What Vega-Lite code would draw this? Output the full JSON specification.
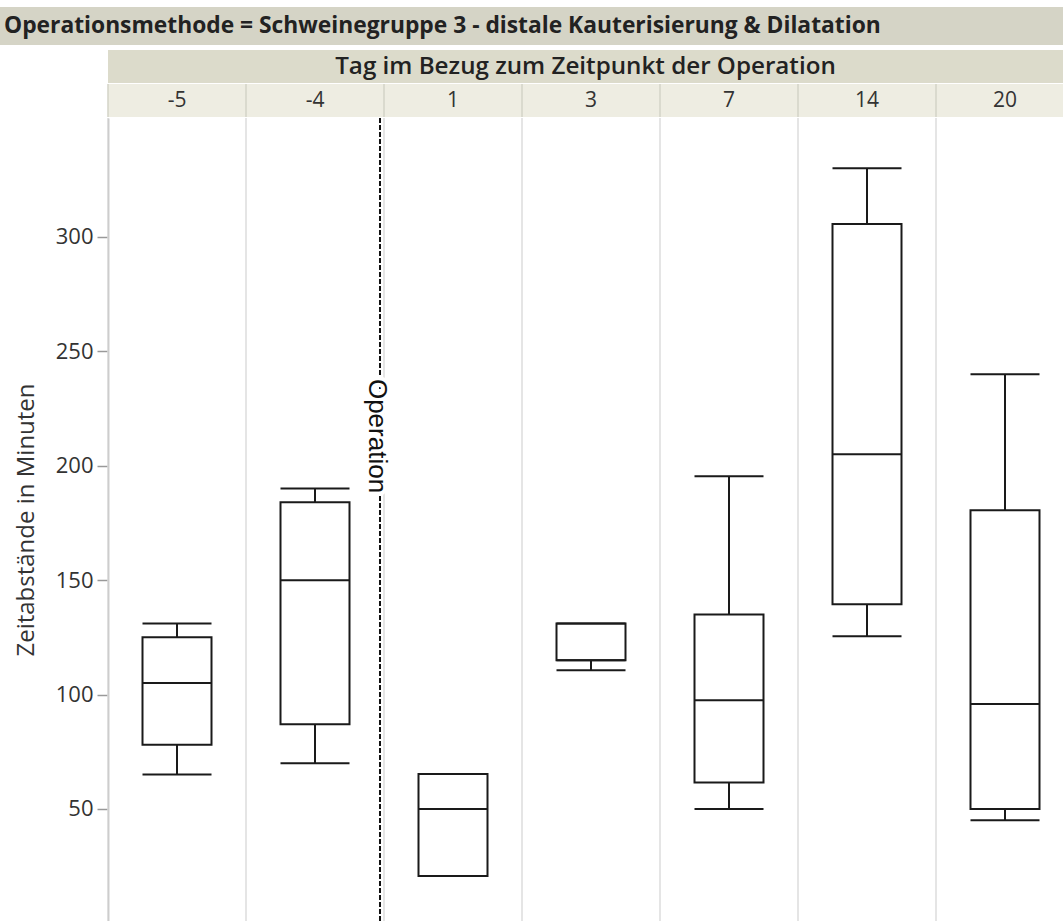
{
  "$schema": "https://vega.github.io/schema/vega-lite/v6.json",
  "padding": {"left": 0, "right": 0, "top": 7, "bottom": 0},
  "autosize": {"type": "pad"},
  "background": "white",
  "config": {"font": "Open Sans", "view": {"stroke": null}},
  "datasets": {
    "boxes": [
      {"tag": "-5", "min": 65, "q1": 78, "median": 105, "q3": 125, "max": 131},
      {"tag": "-4", "min": 70, "q1": 87, "median": 150, "q3": 184, "max": 190},
      {"tag": "1", "min": 20.7, "q1": 20.7, "median": 50, "q3": 65.3, "max": 65.3},
      {"tag": "3", "min": 110.6, "q1": 115, "median": 115, "q3": 131, "max": 131},
      {"tag": "7", "min": 50, "q1": 61.5, "median": 97.5, "q3": 135, "max": 195.4},
      {"tag": "14", "min": 125.5, "q1": 139.5, "median": 205, "q3": 305.7, "max": 330},
      {"tag": "20", "min": 45, "q1": 50, "median": 95.8, "q3": 180.5, "max": 240}
    ],
    "marker": [{"tag": "1", "label": "Operation"}]
  },
  "bounds": "flush",
  "spacing": 5,
  "vconcat": [
    {
      "width": 1063,
      "height": 38,
      "view": {"fill": "#d5d4c6", "stroke": null},
      "data": {"values": [{"t": "Operationsmethode = Schweinegruppe 3 - distale Kauterisierung & Dilatation"}]},
      "mark": {"type": "text", "align": "left", "baseline": "middle", "fontSize": 22.8, "fontWeight": "bold", "color": "#222222", "dx": 4},
      "encoding": {
        "text": {"field": "t"},
        "x": {"datum": 0, "type": "quantitative", "scale": {"domain": [0, 1]}, "axis": null}
      }
    },
    {
      "bounds": "flush",
      "spacing": 8,
      "hconcat": [
        {
          "width": 100,
          "height": 10,
          "data": {"values": []},
          "mark": "point"
        },
        {
          "bounds": "flush",
          "spacing": 1,
          "vconcat": [
            {
              "width": 955,
              "height": 33,
              "view": {"fill": "#dcdbcb", "stroke": null},
              "data": {"values": [{"h": "Tag im Bezug zum Zeitpunkt der Operation"}]},
              "mark": {"type": "text", "baseline": "middle", "fontSize": 24.2, "fontWeight": 600, "color": "#222222"},
              "encoding": {"text": {"field": "h"}}
            },
            {
              "width": 955,
              "height": 33,
              "view": {"fill": "#eeede2", "stroke": null},
              "data": {"name": "boxes"},
              "encoding": {
                "x": {
                  "field": "tag", "type": "nominal", "sort": null, "axis": null,
                  "scale": {"domain": ["-5", "-4", "1", "3", "7", "14", "20"], "range": [0, 966], "paddingInner": 0, "paddingOuter": 0}
                }
              },
              "layer": [
                {
                  "mark": {"type": "rule", "color": "#d3d3c7", "strokeWidth": 1.5},
                  "encoding": {
                    "x": {
                      "field": "tag", "type": "nominal", "sort": null, "axis": null, "bandPosition": 0,
                      "scale": {"domain": ["-5", "-4", "1", "3", "7", "14", "20"], "range": [0, 966], "paddingInner": 0, "paddingOuter": 0}
                    }
                  }
                },
                {
                  "mark": {"type": "text", "baseline": "middle", "fontSize": 21, "color": "#333333"},
                  "encoding": {"text": {"field": "tag"}}
                }
              ]
            },
            {
              "width": 955,
              "height": 803,
              "data": {"name": "boxes"},
              "encoding": {
                "x": {
                  "field": "tag", "type": "nominal", "sort": null, "axis": null,
                  "scale": {"domain": ["-5", "-4", "1", "3", "7", "14", "20"], "range": [0, 966], "paddingInner": 0, "paddingOuter": 0}
                }
              },
              "layer": [
                {
                  "mark": {"type": "rule", "color": "#dcdcdc", "strokeWidth": 1.5},
                  "encoding": {
                    "x": {
                      "field": "tag", "type": "nominal", "sort": null, "axis": null, "bandPosition": 0,
                      "scale": {"domain": ["-5", "-4", "1", "3", "7", "14", "20"], "range": [0, 966], "paddingInner": 0, "paddingOuter": 0}
                    }
                  }
                },
                {
                  "mark": {"type": "rule", "color": "#1a1a1a", "strokeWidth": 2},
                  "encoding": {
                    "y": {
                      "field": "min", "type": "quantitative",
                      "scale": {"domain": [1, 352], "nice": false, "zero": false},
                      "axis": {
                        "values": [50, 100, 150, 200, 250, 300],
                        "title": "Zeitabstände in Minuten",
                        "titleFontSize": 24, "titleFontWeight": "normal", "titleColor": "#333333",
                        "titlePadding": 17,
                        "labelFontSize": 22, "labelColor": "#333333", "labelPadding": 4,
                        "tickSize": 11, "tickColor": "#999999", "tickWidth": 1.5,
                        "domainColor": "#a0a0a0", "domainWidth": 1.5, "grid": false
                      }
                    },
                    "y2": {"field": "q1"}
                  }
                },
                {
                  "mark": {"type": "rule", "color": "#1a1a1a", "strokeWidth": 2},
                  "encoding": {
                    "y": {
                      "field": "q3", "type": "quantitative",
                      "scale": {"domain": [1, 352], "nice": false, "zero": false},
                      "axis": {
                        "values": [50, 100, 150, 200, 250, 300],
                        "title": "Zeitabstände in Minuten",
                        "titleFontSize": 24, "titleFontWeight": "normal", "titleColor": "#333333",
                        "titlePadding": 17,
                        "labelFontSize": 22, "labelColor": "#333333", "labelPadding": 4,
                        "tickSize": 11, "tickColor": "#999999", "tickWidth": 1.5,
                        "domainColor": "#a0a0a0", "domainWidth": 1.5, "grid": false
                      }
                    },
                    "y2": {"field": "max"}
                  }
                },
                {
                  "mark": {"type": "bar", "fill": "white", "stroke": "#1a1a1a", "strokeWidth": 2, "width": {"band": 0.5}},
                  "encoding": {
                    "y": {
                      "field": "q3", "type": "quantitative",
                      "scale": {"domain": [1, 352], "nice": false, "zero": false},
                      "axis": {
                        "values": [50, 100, 150, 200, 250, 300],
                        "title": "Zeitabstände in Minuten",
                        "titleFontSize": 24, "titleFontWeight": "normal", "titleColor": "#333333",
                        "titlePadding": 17,
                        "labelFontSize": 22, "labelColor": "#333333", "labelPadding": 4,
                        "tickSize": 11, "tickColor": "#999999", "tickWidth": 1.5,
                        "domainColor": "#a0a0a0", "domainWidth": 1.5, "grid": false
                      }
                    },
                    "y2": {"field": "q1"}
                  }
                },
                {
                  "mark": {"type": "bar", "fill": "white", "fillOpacity": 0, "stroke": "#1a1a1a", "strokeWidth": 2, "width": {"band": 0.5}},
                  "encoding": {
                    "y": {
                      "field": "median", "type": "quantitative",
                      "scale": {"domain": [1, 352], "nice": false, "zero": false},
                      "axis": {
                        "values": [50, 100, 150, 200, 250, 300],
                        "title": "Zeitabstände in Minuten",
                        "titleFontSize": 24, "titleFontWeight": "normal", "titleColor": "#333333",
                        "titlePadding": 17,
                        "labelFontSize": 22, "labelColor": "#333333", "labelPadding": 4,
                        "tickSize": 11, "tickColor": "#999999", "tickWidth": 1.5,
                        "domainColor": "#a0a0a0", "domainWidth": 1.5, "grid": false
                      }
                    },
                    "y2": {"field": "median"}
                  }
                },
                {
                  "mark": {"type": "bar", "fill": "white", "fillOpacity": 0, "stroke": "#1a1a1a", "strokeWidth": 2, "width": {"band": 0.5}},
                  "encoding": {
                    "y": {
                      "field": "min", "type": "quantitative",
                      "scale": {"domain": [1, 352], "nice": false, "zero": false},
                      "axis": {
                        "values": [50, 100, 150, 200, 250, 300],
                        "title": "Zeitabstände in Minuten",
                        "titleFontSize": 24, "titleFontWeight": "normal", "titleColor": "#333333",
                        "titlePadding": 17,
                        "labelFontSize": 22, "labelColor": "#333333", "labelPadding": 4,
                        "tickSize": 11, "tickColor": "#999999", "tickWidth": 1.5,
                        "domainColor": "#a0a0a0", "domainWidth": 1.5, "grid": false
                      }
                    },
                    "y2": {"field": "min"}
                  }
                },
                {
                  "mark": {"type": "bar", "fill": "white", "fillOpacity": 0, "stroke": "#1a1a1a", "strokeWidth": 2, "width": {"band": 0.5}},
                  "encoding": {
                    "y": {
                      "field": "max", "type": "quantitative",
                      "scale": {"domain": [1, 352], "nice": false, "zero": false},
                      "axis": {
                        "values": [50, 100, 150, 200, 250, 300],
                        "title": "Zeitabstände in Minuten",
                        "titleFontSize": 24, "titleFontWeight": "normal", "titleColor": "#333333",
                        "titlePadding": 17,
                        "labelFontSize": 22, "labelColor": "#333333", "labelPadding": 4,
                        "tickSize": 11, "tickColor": "#999999", "tickWidth": 1.5,
                        "domainColor": "#a0a0a0", "domainWidth": 1.5, "grid": false
                      }
                    },
                    "y2": {"field": "max"}
                  }
                },
                {
                  "data": {"name": "marker"},
                  "mark": {"type": "rule", "color": "#111111", "strokeWidth": 2, "strokeDash": [5, 2]},
                  "encoding": {
                    "x": {"field": "tag", "type": "nominal", "bandPosition": -0.029, "axis": null, "scale": {"domain": ["-5", "-4", "1", "3", "7", "14", "20"], "range": [0, 966], "paddingInner": 0, "paddingOuter": 0}}
                  }
                },
                {
                  "data": {"name": "marker"},
                  "mark": {"type": "text", "angle": 90, "align": "center", "baseline": "middle", "font": "Liberation Sans", "fontSize": 26, "fill": "white", "stroke": "white", "strokeWidth": 8},
                  "encoding": {
                    "x": {"field": "tag", "type": "nominal", "bandPosition": -0.05, "axis": null, "scale": {"domain": ["-5", "-4", "1", "3", "7", "14", "20"], "range": [0, 966], "paddingInner": 0, "paddingOuter": 0}},
                    "y": {
                      "datum": 213, "type": "quantitative",
                      "scale": {"domain": [1, 352], "nice": false, "zero": false},
                      "axis": {
                        "values": [50, 100, 150, 200, 250, 300],
                        "title": "Zeitabstände in Minuten",
                        "titleFontSize": 24, "titleFontWeight": "normal", "titleColor": "#333333",
                        "titlePadding": 17,
                        "labelFontSize": 22, "labelColor": "#333333", "labelPadding": 4,
                        "tickSize": 11, "tickColor": "#999999", "tickWidth": 1.5,
                        "domainColor": "#a0a0a0", "domainWidth": 1.5, "grid": false
                      }
                    },
                    "text": {"field": "label"}
                  }
                },
                {
                  "data": {"name": "marker"},
                  "mark": {"type": "text", "angle": 90, "align": "center", "baseline": "middle", "font": "Liberation Sans", "fontSize": 26, "color": "#111111"},
                  "encoding": {
                    "x": {"field": "tag", "type": "nominal", "bandPosition": -0.05, "axis": null, "scale": {"domain": ["-5", "-4", "1", "3", "7", "14", "20"], "range": [0, 966], "paddingInner": 0, "paddingOuter": 0}},
                    "y": {
                      "datum": 213, "type": "quantitative",
                      "scale": {"domain": [1, 352], "nice": false, "zero": false},
                      "axis": {
                        "values": [50, 100, 150, 200, 250, 300],
                        "title": "Zeitabstände in Minuten",
                        "titleFontSize": 24, "titleFontWeight": "normal", "titleColor": "#333333",
                        "titlePadding": 17,
                        "labelFontSize": 22, "labelColor": "#333333", "labelPadding": 4,
                        "tickSize": 11, "tickColor": "#999999", "tickWidth": 1.5,
                        "domainColor": "#a0a0a0", "domainWidth": 1.5, "grid": false
                      }
                    },
                    "text": {"field": "label"}
                  }
                }
              ]
            }
          ]
        }
      ]
    }
  ]
}
